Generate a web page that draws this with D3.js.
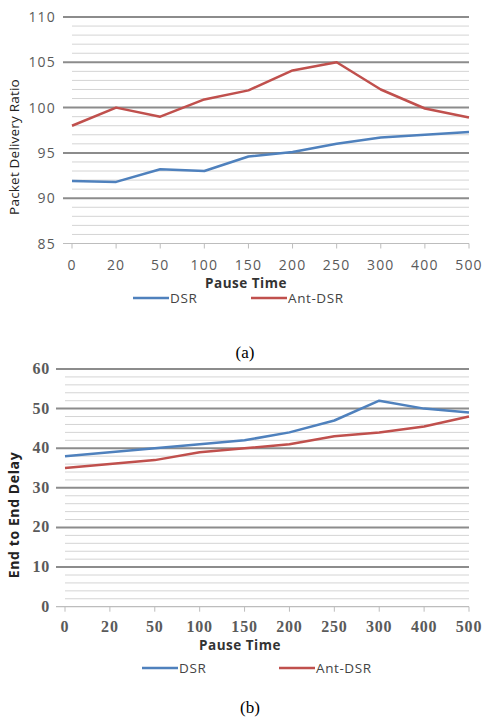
<!DOCTYPE html>
<html><head><meta charset="utf-8">
<script src="https://cdn.jsdelivr.net/npm/d3@7"></script>
<style>html,body{margin:0;padding:0;background:#fff;}svg{display:block;}</style>
</head><body>
<svg id="c" width="485" height="717"></svg>
<script>
const categories = ["0","20","50","100","150","200","250","300","400","500"];
const pdrDSR    = [91.9, 91.8, 93.2, 93.0, 94.6, 95.1, 96.0, 96.7, 97.0, 97.3];
const pdrAntDSR = [98.0, 100.0, 99.0, 100.9, 101.9, 104.1, 105.0, 102.0, 99.9, 98.9];
const delayDSR    = [38, 39, 40, 41, 42, 44, 47, 52, 50, 49];
const delayAntDSR = [35, 36, 37, 39, 40, 41, 43, 44, 45.5, 48];
const seriesNames = ["DSR", "Ant-DSR"];
const colors = ["#4f81bd", "#c0504d"];

const svg = d3.select("#c");

function drawChart(o) {
  const g = svg.append("g");
  const x = d3.scalePoint().domain(categories).range([o.x0, o.x1]).padding(0);
  const y = d3.scaleLinear().domain(o.yDomain).range([o.y0, o.y1]);
  const minor = d3.range(o.yDomain[0], o.yDomain[1] + 1e-9, o.minorStep);
  g.selectAll(".minor").data(minor.filter(v => Math.abs(v / o.majorStep - Math.round(v / o.majorStep)) > 1e-6))
    .join("line").attr("x1", o.x0).attr("x2", o.x1)
    .attr("y1", d => y(d)).attr("y2", d => y(d))
    .attr("stroke", "#d4d4d4").attr("stroke-width", 1);
  const major = d3.range(o.yDomain[0], o.yDomain[1] + 1e-9, o.majorStep);
  g.selectAll(".major").data(major.slice(1))
    .join("line").attr("x1", o.x0 - 9).attr("x2", o.x1)
    .attr("y1", d => y(d)).attr("y2", d => y(d))
    .attr("stroke", "#8c8c8c").attr("stroke-width", 2);
  g.append("line").attr("x1", o.x0 - 9).attr("x2", o.x1)
    .attr("y1", y(o.yDomain[0])).attr("y2", y(o.yDomain[0]))
    .attr("stroke", "#bdbdbd").attr("stroke-width", 1.2);
  g.selectAll(".xt").data(categories).join("line")
    .attr("x1", d => x(d)).attr("x2", d => x(d))
    .attr("y1", y(o.yDomain[0])).attr("y2", y(o.yDomain[0]) + 5)
    .attr("stroke", "#bdbdbd").attr("stroke-width", 1);
  g.selectAll(".yl").data(major).join("text")
    .attr("x", o.yLabelX).attr("y", d => y(d) + 5)
    .attr("text-anchor", "end").attr("font-family", o.tickFont)
    .attr("font-size", o.tickSize).attr("font-weight", o.tickWeight)
    .attr("letter-spacing", o.tickSpacing)
    .attr("fill", "#5a5a5a").text(d => d);
  g.selectAll(".xl").data(categories).join("text")
    .attr("x", d => x(d)).attr("y", o.xLabelY)
    .attr("text-anchor", "middle").attr("font-family", o.tickFont)
    .attr("font-size", o.tickSize).attr("font-weight", o.tickWeight)
    .attr("letter-spacing", o.tickSpacing)
    .attr("fill", "#5a5a5a").text(d => d);
  g.append("text").attr("x", o.xTitleX).attr("y", o.xTitleY)
    .attr("text-anchor", "middle").attr("font-family", "Open Sans, sans-serif")
    .attr("font-size", 13.5).attr("font-weight", "bold").attr("fill", "#333")
    .attr("letter-spacing", 0.5)
    .text("Pause Time");
  g.append("text").attr("transform", `translate(${o.yTitleX},${o.yTitleY}) rotate(-90)`)
    .attr("text-anchor", "middle").attr("font-family", "Open Sans, sans-serif")
    .attr("font-size", o.yTitleSize).attr("font-weight", o.yTitleWeight).attr("fill", "#222")
    .attr("letter-spacing", o.yTitleSpacing)
    .text(o.yTitle);
  const line = d3.line().x((d, i) => x(categories[i])).y(d => y(d));
  o.series.forEach((s, k) => {
    g.append("path").datum(s).attr("d", line).attr("fill", "none")
      .attr("stroke", colors[k]).attr("stroke-width", 2.5).attr("stroke-linejoin", "round");
  });
  o.legend.forEach((lx, k) => {
    g.append("line").attr("x1", lx).attr("x2", lx + 36)
      .attr("y1", o.legendY).attr("y2", o.legendY)
      .attr("stroke", colors[k]).attr("stroke-width", 2.5);
    g.append("text").attr("x", lx + 37).attr("y", o.legendY + 5)
      .attr("font-family", "Open Sans, sans-serif").attr("font-size", 13.5)
      .attr("letter-spacing", 0.6)
      .attr("fill", "#444").text(seriesNames[k]);
  });
  g.append("text").attr("x", o.capX).attr("y", o.capY).attr("text-anchor", "middle")
    .attr("font-family", "Liberation Serif, serif").attr("font-size", 17).attr("fill", "#000")
    .text(o.caption);
}

drawChart({
  x0: 72, x1: 469, y0: 243.5, y1: 17, yDomain: [85, 110], minorStep: 1, majorStep: 5,
  tickFont: "Open Sans, sans-serif", tickSize: 14, tickWeight: "normal", tickSpacing: 1.2, yLabelX: 56,
  xLabelY: 270, xTitleX: 246, xTitleY: 288,
  yTitle: "Packet Delivery Ratio", yTitleX: 19, yTitleY: 147, yTitleSize: 13.5, yTitleWeight: "normal", yTitleSpacing: 0.2,
  series: [pdrDSR, pdrAntDSR], legend: [133, 251], legendY: 298,
  caption: "(a)", capX: 245, capY: 358
});
drawChart({
  x0: 65, x1: 469, y0: 606.7, y1: 369, yDomain: [0, 60], minorStep: 2, majorStep: 10,
  tickFont: "Liberation Serif, serif", tickSize: 16, tickWeight: "bold", tickSpacing: 0.8, yLabelX: 50,
  xLabelY: 632, xTitleX: 240, xTitleY: 650,
  yTitle: "End to End Delay", yTitleX: 19, yTitleY: 515, yTitleSize: 14, yTitleWeight: "bold", yTitleSpacing: 0.6,
  series: [delayDSR, delayAntDSR], legend: [142, 279], legendY: 668,
  caption: "(b)", capX: 250, capY: 713
});
</script>
</body></html>
